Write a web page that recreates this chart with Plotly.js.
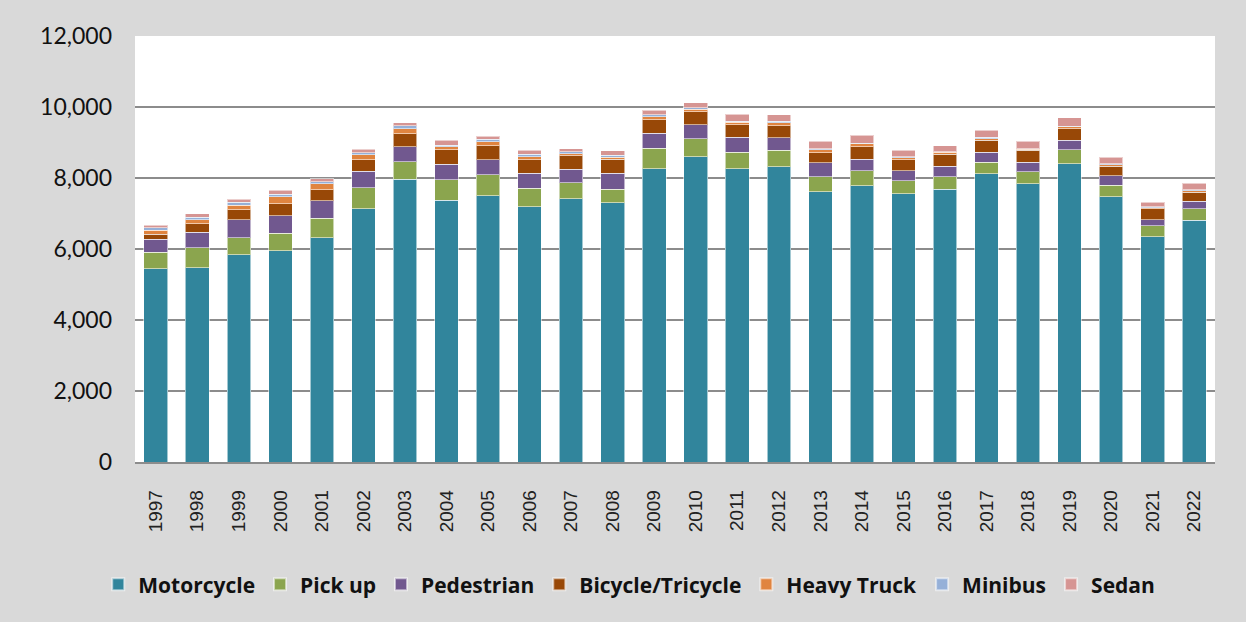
<!DOCTYPE html>
<html>
<head>
<meta charset="utf-8">
<script src="https://cdn.plot.ly/plotly-3.0.1.min.js"></script>
<style>html,body{margin:0;padding:0;background:#d9d9d9;}#chart{width:1246px;height:622px;}</style>
</head>
<body>
<div id="chart"></div>
<script>
const years = ['1997','1998','1999','2000','2001','2002','2003','2004','2005','2006','2007','2008','2009','2010','2011','2012','2013','2014','2015','2016','2017','2018','2019','2020','2021','2022'];
const motorcycle = [5440,5470,5840,5950,6320,7140,7965,7380,7500,7190,7420,7305,8260,8600,8260,8310,7615,7785,7560,7680,8120,7840,8405,7475,6345,6810];
const pickup     = [475,565,480,500,545,590,495,575,590,520,440,385,575,500,470,470,425,420,360,355,330,340,385,320,310,330];
const pedestrian = [355,435,505,480,490,460,425,430,420,420,385,450,425,405,415,355,385,320,280,290,275,265,275,265,170,210];
const bicycle    = [150,245,280,345,320,330,365,410,395,385,385,385,385,365,355,340,290,355,320,350,340,340,325,270,310,255];
const heavyTruck = [105,105,125,195,160,140,140,85,115,85,55,55,85,65,75,85,75,85,55,45,45,20,50,40,30,35];
const minibus    = [75,75,85,75,65,50,75,40,65,65,50,55,50,45,20,40,35,20,20,20,45,20,20,30,20,30];
const sedan      = [65,105,85,105,85,95,95,150,95,115,85,130,130,140,205,175,215,225,190,170,195,215,240,185,130,185];

const names  = ['Motorcycle','Pick up','Pedestrian','Bicycle/Tricycle','Heavy Truck','Minibus','Sedan'];
const series = [motorcycle,pickup,pedestrian,bicycle,heavyTruck,minibus,sedan];
const colors = ['#31859C','#8BA54E','#71588F','#984807','#E0843F','#95B0D8','#D69593'];

const traces = series.map((vals,i)=>({
  type:'bar', name:names[i], x:years, y:vals,
  marker:{color:colors[i], line:{color:'rgba(255,255,255,0.55)', width:1}},
  hoverinfo:'name+y'
}));

const layout = {
  width:1246, height:622,
  barmode:'stack', bargap:0.43,
  paper_bgcolor:'#d9d9d9', plot_bgcolor:'#ffffff',
  margin:{l:135, r:31, t:36, b:160, pad:0},
  font:{family:'Lato, sans-serif', color:'#000'},
  xaxis:{
    type:'category', tickangle:-90, showgrid:false,
    tickfont:{family:'Liberation Sans', size:19, color:'#222'},
    ticks:'', ticklabelstandoff:19,
    showline:true, linecolor:'#8c8c8c', linewidth:1.5
  },
  yaxis:{
    range:[0,12000], dtick:2000, tickformat:',d',
    showgrid:true, gridcolor:'#8c8c8c', gridwidth:1.5,
    zeroline:false, showline:false,
    tickfont:{family:'Lato, sans-serif', size:23, color:'#111'},
    ticks:'', ticklabelstandoff:22
  },
  legend:{
    orientation:'h', xref:'container', yref:'container',
    x:0.505, xanchor:'center', y:0.06, yanchor:'middle',
    font:{family:'Open Sans', size:21, weight:'bold', color:'#111'},
    traceorder:'normal', itemwidth:30, itemsizing:'constant',
    bgcolor:'rgba(0,0,0,0)'
  },
  showlegend:true
};

Plotly.newPlot('chart', traces, layout, {displayModeBar:false, staticPlot:true});
</script>
</body>
</html>
